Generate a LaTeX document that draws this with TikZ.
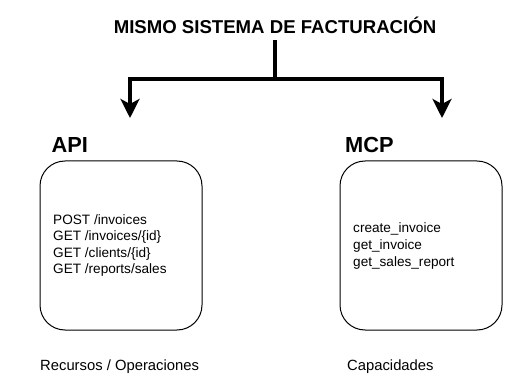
\documentclass[tikz,border=0pt]{standalone}
\usepackage{fontspec}
\setmainfont{Liberation Sans}
\usetikzlibrary{arrows.meta}
\begin{document}
\begin{tikzpicture}[x=1pt,y=-1pt,
  titlestyle/.style={font=\fontsize{18.6}{22}\selectfont\bfseries, inner sep=0pt, anchor=base},
  headstyle/.style={font=\fontsize{21.8}{26}\selectfont\bfseries, inner sep=0pt, anchor=base west},
  panel/.style={draw=black, line width=1pt, rounded corners=25pt, minimum width=162pt, minimum height=169pt, inner sep=0pt},
  itemtext/.style={font=\fontsize{13.6}{16.6}\selectfont, align=left, inner sep=0pt, anchor=west},
  caption/.style={font=\fontsize{14.8}{18}\selectfont, inner sep=0pt, anchor=base west},
  conn/.style={line width=4pt, draw=black},
  tip/.style={-{Stealth[length=19pt,width=19pt,inset=5pt]}}
]
\useasboundingbox (0,0) rectangle (511,390);
\node[titlestyle] (title) at (275,33.5) {MISMO SISTEMA DE FACTURACIÓN};
\coordinate (j) at (275,79);
\coordinate (la) at (130,118);
\coordinate (ra) at (442,118);
\draw[conn] ([yshift=-6.5pt]title.south) -- (j);
\draw[conn,tip] (j) -| (la);
\draw[conn,tip] (j) -| (ra);

\node[headstyle] (apih) at (51.5,152.5) {API};
\node[headstyle] (mcph) at (345,152.5) {MCP};

\node[panel] (api) at (121,245.5) {};
\node[panel] (mcp) at (421,245.5) {};

\node[itemtext] (apit) at (53,245.5) {POST /invoices\\GET /invoices/\{id\}\\GET /clients/\{id\}\\GET /reports/sales};
\node[itemtext] (mcpt) at (353,246) {create\_invoice\\get\_invoice\\get\_sales\_report};

\node[caption] (apic) at (40,370.5) {Recursos / Operaciones};
\node[caption] (mcpc) at (347,370.5) {Capacidades};
\end{tikzpicture}
\end{document}
